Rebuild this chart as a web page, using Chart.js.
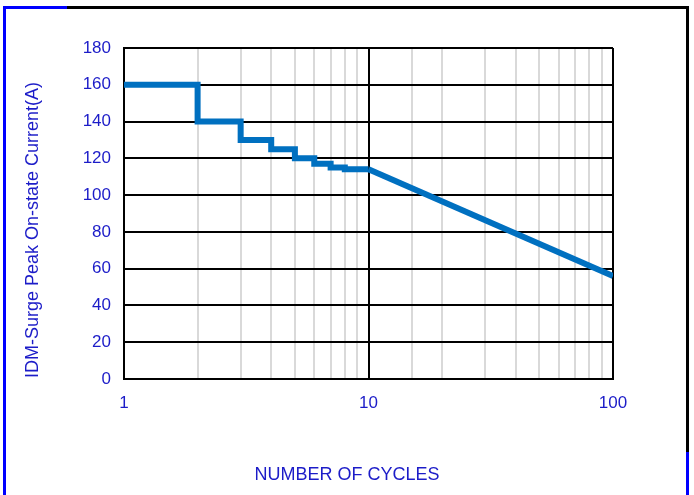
<!DOCTYPE html>
<html>
<head>
<meta charset="utf-8">
<script src="https://cdn.jsdelivr.net/npm/chart.js@4"></script>
<style>
  html, body { margin: 0; padding: 0; background: #fff; }
  #wrap { position: relative; width: 694px; height: 495px; }
  canvas { position: absolute; left: 0; top: 0; }
  .edge { position: absolute; }
</style>
</head>
<body>
<div id="wrap">
  <canvas id="chartSurge" width="694" height="495"></canvas>
  <div class="edge" style="left:3px;top:6px;width:3px;height:489px;background:#0000ff"></div>
  <div class="edge" style="left:3px;top:6px;width:64px;height:3px;background:#0000ff"></div>
  <div class="edge" style="left:67px;top:6px;width:622px;height:3px;background:#000"></div>
  <div class="edge" style="left:686px;top:6px;width:3px;height:446px;background:#000"></div>
  <div class="edge" style="left:686px;top:452px;width:3px;height:43px;background:#0000ff"></div>
</div>
<script>
// ─── DATA ─────────────────────────────────────────────────
const stepCycles  = [1, 2, 3, 4, 5, 6, 7, 8, 9, 10];
const stepCurrent = [160, 140, 130, 125, 120, 117, 115, 114, 114, 114];
const slopeCycles  = [10, 100];
const slopeCurrent = [114, 56];
const yTicks = [0, 20, 40, 60, 80, 100, 120, 140, 160, 180];
const xLabels = [1, 10, 100];

const TEXT_BLUE = '#1c1cc8';
const LINE_BLUE = '#0070c0';
const FONT = "'Liberation Sans', Arial, sans-serif";

const pts = (xs, ys) => xs.map((x, i) => ({ x, y: ys[i] }));
const isMajor = (v) => xLabels.includes(v);

// axis titles drawn at fixed spots
const axisTitles = {
    id: 'axisTitles',
    afterDraw(chart) {
        const c = chart.ctx;
        c.save();
        c.fillStyle = TEXT_BLUE;
        c.font = '18px ' + FONT;
        c.textAlign = 'center';
        c.textBaseline = 'middle';
        c.fillText('NUMBER OF CYCLES', 347, 475);
        c.translate(33, 230);
        c.rotate(-Math.PI / 2);
        c.fillText('IDM-Surge Peak On-state Current(A)', 0, 0);
        c.restore();
    },
};

new Chart(document.getElementById('chartSurge'), {
    type: 'line',
    data: {
        datasets: [
            {
                data: pts(stepCycles, stepCurrent),
                stepped: 'before',
                borderColor: LINE_BLUE,
                borderWidth: 6,
                pointRadius: 0,
                fill: false,
            },
            {
                data: pts(slopeCycles, slopeCurrent),
                borderColor: LINE_BLUE,
                borderWidth: 6,
                pointRadius: 0,
                fill: false,
            },
        ],
    },
    options: {
        responsive: false,
        animation: false,
        layout: { padding: { left: 0, right: 81, top: 48, bottom: 0 } },
        plugins: { legend: { display: false }, tooltip: { enabled: false } },
        scales: {
            x: {
                type: 'logarithmic',
                min: 1,
                max: 100,
                afterFit: (s) => { s.height = 116; },
                border: { display: true, color: '#000', width: 2 },
                grid: {
                    drawTicks: false,
                    lineWidth: 2,
                    color: (ctx) => (ctx.tick && isMajor(ctx.tick.value) ? '#000' : '#d9d9d9'),
                },
                ticks: {
                    autoSkip: false,
                    maxRotation: 0,
                    padding: 14,
                    color: TEXT_BLUE,
                    font: { family: FONT, size: 17 },
                    callback: (v) => (isMajor(v) ? String(v) : ''),
                },
            },
            y: {
                min: 0,
                max: 180,
                afterFit: (s) => { s.width = 124; },
                afterBuildTicks: (s) => { s.ticks = yTicks.map(v => ({ value: v })); },
                border: { display: true, color: '#000', width: 2 },
                grid: { drawTicks: false, lineWidth: 2, color: '#000' },
                ticks: {
                    padding: 13,
                    color: TEXT_BLUE,
                    font: { family: FONT, size: 17 },
                },
            },
        },
    },
    plugins: [axisTitles],
});
</script>
</body>
</html>
